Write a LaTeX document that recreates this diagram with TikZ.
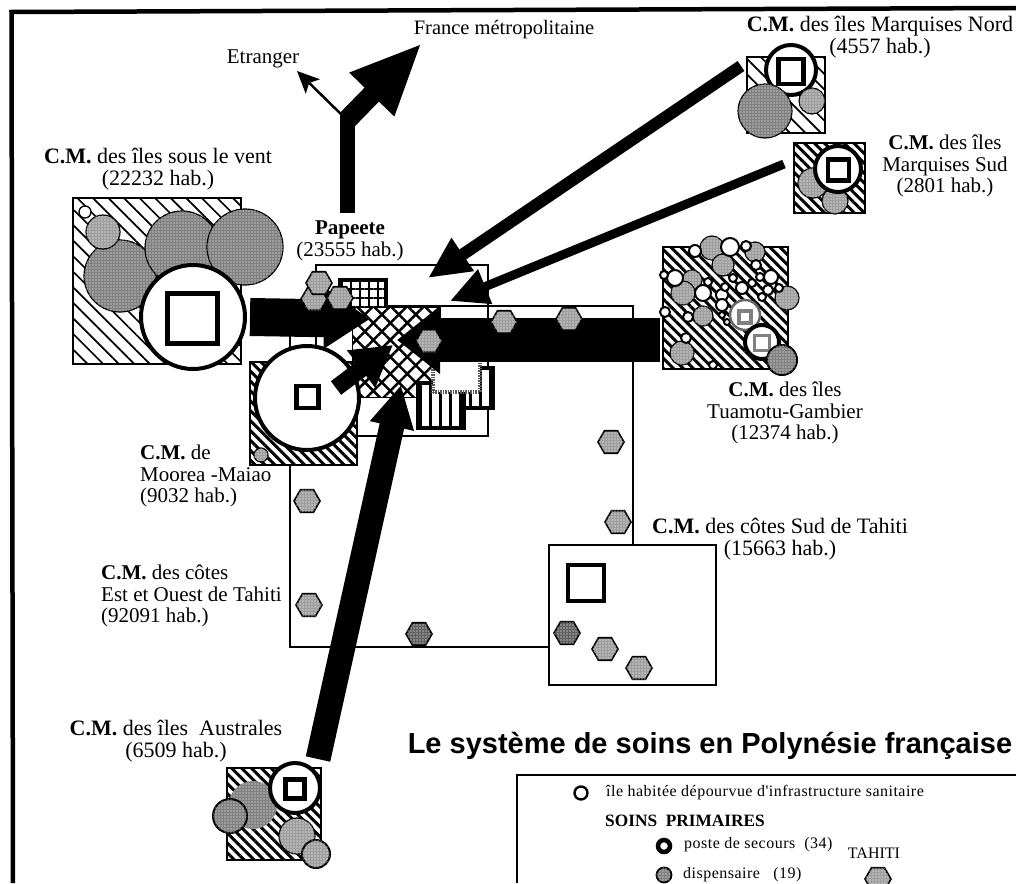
\documentclass[tikz,border=0pt]{standalone}
\usepackage{fontspec}
\setmainfont{Liberation Serif}
\setsansfont{Liberation Sans}
\newfontfamily\legendfont[LetterSpace=3]{Liberation Serif}
\usetikzlibrary{arrows.meta, patterns.meta, shapes.geometric}
\tikzset{
  lab/.style={font=\fontsize{21}{21.5}\selectfont, align=center, inner sep=0pt},
  biglab/.style={lab, font=\fontsize{22}{21.5}\selectfont},
  legend/.style={font=\fontsize{16}{16}\legendfont, anchor=west, inner sep=0pt},
  box/.style={draw, line width=1.6pt, inner sep=0pt, outer sep=0pt},
  widehatch/.style={box, preaction={fill=white}, pattern={Lines[angle=-45,distance=11pt,line width=1.7pt]}},
  densehatch/.style={box, preaction={fill=white}, pattern={Lines[angle=-45,distance=7pt,line width=3pt]}},
  mesh/.style={box, line width=.5pt, preaction={fill=white}, pattern={Hatch[angle=45,distance=12pt,line width=2.5pt]}},
  gridded/.style={box, line width=3.5pt, preaction={fill=white}, pattern={Hatch[angle=0,distance=9pt,line width=2pt]}},
  striped/.style={box, line width=3.5pt, preaction={fill=white}, pattern={Lines[angle=90,distance=10pt,line width=3pt]}},
  isle/.style={circle, draw, line width=1.2pt, fill=black!50, inner sep=0pt,
    postaction={pattern={Dots[distance=3pt,radius=.7pt]}, pattern color=white}},
  lightisle/.style={isle, fill=black!38},
  islet/.style={circle, draw, line width=2pt, fill=white, inner sep=0pt},
  centre/.style={circle, draw, line width=4pt, fill=white, inner sep=0pt},
  hospital/.style={draw, line width=4.5pt, fill=white, inner sep=0pt},
  hexa/.style={regular polygon, regular polygon sides=6, draw, line width=1.6pt, fill=black!38, inner sep=0pt, minimum size=26pt,
    postaction={pattern={Dots[distance=3pt,radius=.7pt]}, pattern color=white}},
  darkhexa/.style={hexa, fill=black!62},
  flow/.style={line width=#1, line cap=butt, line join=miter, draw=black}
}
\begin{document}
\begin{tikzpicture}[x=1pt, y=-1pt]
  \useasboundingbox (0,0) rectangle (1016,883);

  \coordinate (topleft) at (11.5,12);
  \coordinate (topright) at (1016,8);
  \coordinate (bottomleft) at (13,883);
  \draw[line width=4.5pt] (bottomleft) -- (topleft) -- (topright);

  \node[box, line width=1.3pt, minimum width=343pt, minimum height=341pt] (tahiti) at (461.5,476.5) {};
  \node[box, line width=1.3pt, minimum width=172pt, minimum height=171pt] (papeetebox) at (402,350.5) {};
  \node[box, line width=1.3pt, fill=white, minimum width=167pt, minimum height=140pt] (sudbox) at (632.5,615) {};

  \node[gridded, minimum width=46pt, minimum height=45pt] (gridsq) at (363,302.5) {};
  \node[mesh, minimum width=88pt, minimum height=90pt] (meshsq) at (396,352) {};
  \node[striped, minimum width=38pt, minimum height=40pt] (stripesqa) at (474,388) {};
  \node[striped, minimum width=46pt, minimum height=45pt] (stripesqb) at (441,405.5) {};
  \node[draw=black!65, dash pattern=on 1.5pt off 1pt, line width=4pt, fill=white, minimum width=47pt, minimum height=42pt] (dotsq) at (456,371) {};

  \node[hexa] (hexd) at (611,442) {};
  \node[hexa] (hexe) at (618,522) {};
  \node[hexa] (hexf) at (307,501) {};
  \node[hexa] (hexg) at (309,605) {};
  \node[darkhexa] (hexh) at (419,634) {};
  \node[darkhexa] (hexi) at (567,633) {};
  \node[hexa] (hexj) at (605,649) {};
  \node[hexa] (hexk) at (639,668) {};
  \node[hospital, line width=4pt, minimum width=36pt, minimum height=36pt] (sudhosp) at (586,583) {};

  \node[widehatch, minimum width=168pt, minimum height=166pt] (ventsq) at (157,281) {};
  \node[isle, minimum size=72pt] (venta) at (120,276) {};
  \node[lightisle, minimum size=34pt] (ventb) at (103,232) {};
  \node[islet, line width=1.3pt, minimum size=12pt] (ventc) at (85,212) {};
  \node[isle, minimum size=74pt] (ventd) at (182,248) {};
  \node[isle, minimum size=76pt] (vente) at (245,247) {};
  \node[centre, minimum size=104pt] (ventcm) at (193,317) {};
  \node[hospital, minimum size=50pt] (venthosp) at (192.5,318.5) {};

  \node[densehatch, minimum width=107pt, minimum height=103pt] (mooreasq) at (303.5,413.5) {};
  \node[centre, minimum size=104pt] (mooreacm) at (307,398) {};
  \node[hospital, minimum size=22pt] (mooreahosp) at (307.5,397) {};
  \node[lightisle, minimum size=14pt] (mooreaa) at (261,455) {};

  \node[widehatch, minimum width=78pt, minimum height=76pt] (nordsq) at (786,95) {};
  \node[centre, minimum size=50pt] (nordcm) at (791,70) {};
  \node[hospital, minimum size=25pt] (nordhosp) at (791,71.5) {};
  \node[isle, minimum size=54pt] (norda) at (765,111) {};
  \node[lightisle, minimum size=26pt] (nordb) at (812,101) {};

  \node[densehatch, minimum width=71pt, minimum height=70pt] (sudsq) at (829.5,178) {};
  \node[lightisle, minimum size=30pt] (marsa) at (813,183) {};
  \node[lightisle, minimum size=26pt] (marsb) at (835,201) {};
  \node[centre, minimum size=46pt] (marscm) at (838,169) {};
  \node[hospital, minimum size=21pt] (marshosp) at (838.5,170) {};

  \node[densehatch, minimum width=125pt, minimum height=122pt] (tuasq) at (725.5,308) {};
  \foreach \x/\y/\r [count=\i] in {712/248/24, 755/252/20, 723/265/22, 692/280/20, 683/293/24, 703/316/20, 787/298/24, 682/353/24}
    \node[lightisle, minimum size=\r pt] (tuagrey\i) at (\x,\y) {};
  \foreach \x/\y/\r [count=\i] in {695/251/12, 730/247/18, 746/246/10, 756/265/10, 675/278/16, 664/275/8, 703/293/16, 708/282/8, 665/312/10, 688/317/10, 686/338/10, 713/365/8, 722/315/6, 727/322/6, 771/277/14, 760/277/8, 733/278/8, 722/295/12, 725/287/8, 742/288/12, 752/283/8, 768/290/10, 779/288/8, 745/305/10, 722/305/12, 762/297/8}
    \node[islet, minimum size=\r pt] (tuaislet\i) at (\x,\y) {};
  \node[centre, line width=2.5pt, draw=black!60, minimum size=30pt] (tuab) at (745,315) {};
  \node[hospital, line width=3.5pt, draw=black!50, minimum size=12pt] (tuabhosp) at (745,317) {};
  \node[centre, minimum size=34pt] (tuacm) at (762,342) {};
  \node[hospital, line width=3.5pt, draw=black!50, minimum size=15pt] (tuahosp) at (762,343) {};
  \node[isle, line width=2pt, minimum size=30pt] (tuac) at (782,360) {};

  \node[densehatch, minimum width=94pt, minimum height=92pt] (austsq) at (274,814) {};
  \node[isle, draw=none, minimum size=48pt] (austa) at (253,805) {};
  \node[isle, line width=2pt, minimum size=34pt] (austb) at (230,816) {};
  \node[lightisle, minimum size=36pt] (austc) at (297,836) {};
  \node[lightisle, line width=2pt, minimum size=28pt] (austd) at (316,854) {};
  \node[centre, minimum size=50pt] (austcm) at (295,788) {};
  \node[hospital, minimum size=19pt] (austhosp) at (295,789) {};

  \coordinate (tipvent) at (370,319);
  \coordinate (fromvent) at (250,317);
  \coordinate (tiptua) at (397,340);
  \coordinate (fromtua) at (660,340);
  \coordinate (tipmoorea) at (393,345);
  \coordinate (frommoorea) at (336,388);
  \coordinate (tipaust) at (401,385);
  \coordinate (fromaust) at (318,759);
  \coordinate (tipnord) at (428,278);
  \coordinate (fromnord) at (741,66);
  \coordinate (tipsud) at (450,301);
  \coordinate (fromsud) at (784,164);
  \coordinate (fork) at (347,120);
  \coordinate (forktop) at (347,112);
  \coordinate (frompapeete) at (347,213);
  \coordinate (tipfrance) at (422,43);
  \coordinate (tipetranger) at (297,71);

  \draw[flow=38pt, -{Triangle[length=46pt,width=58pt]}] (fromvent) -- (tipvent);
  \draw[flow=44pt, -{Triangle[length=43pt,width=65pt]}] (fromtua) -- (tiptua);
  \draw[flow=17pt, -{Triangle[length=40pt,width=44pt]}] (frommoorea) -- (tipmoorea);
  \draw[flow=25pt, -{Triangle[length=42pt,width=42pt]}] (fromaust) -- (tipaust);
  \draw[flow=12pt, -{Triangle[length=42pt,width=37pt]}] (fromnord) -- (tipnord);
  \draw[flow=9pt, -{Triangle[length=38pt,width=35pt]}] (fromsud) -- (tipsud);
  \draw[flow=15pt] (frompapeete) -- (forktop);
  \draw[flow=20pt, -{Triangle[length=72pt,width=57pt]}] (fork) -- (tipfrance);
  \draw[flow=2.5pt, -{Stealth[length=22pt,width=20pt,inset=5pt]}] (fork) -- (tipetranger);

  \node[hexa] (hexpa) at (314,299) {};
  \node[hexa] (hexpb) at (340,298) {};
  \node[hexa] (hexpc) at (319,283) {};
  \node[hexa] (hexa) at (504,322) {};
  \node[hexa] (hexb) at (569,319) {};
  \node[hexa] (hexc) at (429,341) {};

  \node[lab, font=\fontsize{20.5}{21}\selectfont] (france) at (504,30) {France métropolitaine};
  \node[lab] (etranger) at (263,59) {Etranger};
  \node[biglab] (nordlab) at (880,37) {\textbf{C.M.} des îles Marquises Nord\\(4557 hab.)};
  \node[lab] (sudlab) at (945,166) {\textbf{C.M.} des îles\\Marquises Sud\\(2801 hab.)};
  \node[biglab] (ventlab) at (158,169) {\textbf{C.M.} des îles sous le vent\\(22232 hab.)};
  \node[lab] (papeetelab) at (350,241) {\textbf{Papeete}\\(23555 hab.)};
  \node[lab] (tualab) at (785,413) {\textbf{C.M.} des îles\\Tuamotu-Gambier\\(12374 hab.)};
  \node[lab, align=left, anchor=west] (mooreaslab) at (140,476) {\textbf{C.M.} de\\Moorea -Maiao\\(9032 hab.)};
  \node[biglab] (sudtahiti) at (780,539) {\textbf{C.M.} des côtes Sud de Tahiti\\(15663 hab.)};
  \node[lab, align=left, anchor=west] (estlab) at (101,596) {\textbf{C.M.} des côtes\\Est et Ouest de Tahiti\\(92091 hab.)};
  \node[biglab] (austlab) at (176,741) {\textbf{C.M.} des îles\ \ Australes\\(6509 hab.)};
  \node[font=\fontsize{29}{29}\sffamily\bfseries, inner sep=0pt] (title) at (710,746) {Le système de soins en Polynésie française};

  \coordinate (legendbr) at (1016,883);
  \coordinate (legendtl) at (517,775);
  \draw[line width=1.6pt] (legendtl |- legendbr) -- (legendtl) -- (legendtl -| legendbr);
  \node[islet, line width=2.4pt, minimum size=13pt] (keyislet) at (581,793) {};
  \node[legend] (keyisletlab) at (606,793) {île habitée dépourvue d'infrastructure sanitaire};
  \node[legend, font=\fontsize{17.3}{17}\bfseries] (soins) at (605,821) {SOINS\ \ PRIMAIRES};
  \node[circle, draw, line width=4.5pt, fill=white, inner sep=0pt, minimum size=12pt] (keyposte) at (664,846) {};
  \node[legend] (keypostelab) at (684,845) {poste de secours\ \ (34)};
  \node[isle, line width=1.8pt, minimum size=15pt] (keydisp) at (664,875) {};
  \node[legend] (keydisplab) at (683,875) {dispensaire\ \ \ (19)};
  \node[legend, anchor=center, font=\fontsize{16}{16}\selectfont] (keytahiti) at (874,853) {TAHITI};
  \node[hexa] (keyhex) at (878,879) {};
\end{tikzpicture}
\end{document}
